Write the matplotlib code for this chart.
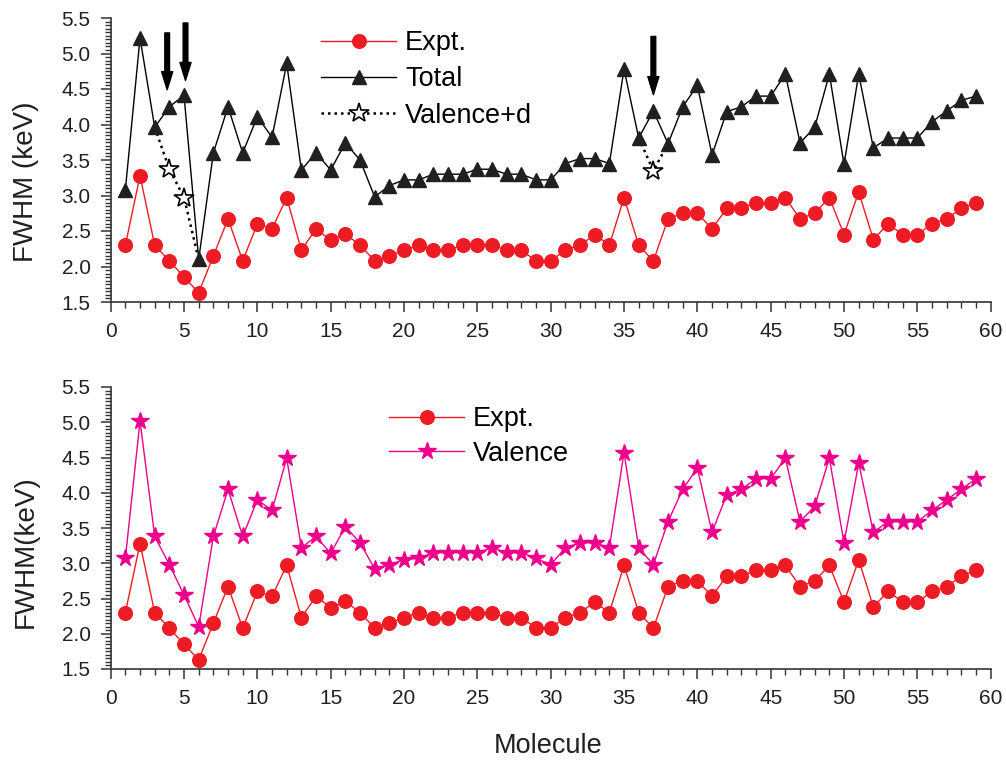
import matplotlib
matplotlib.use("Agg")
import matplotlib.pyplot as plt
import numpy as np
from matplotlib.ticker import MultipleLocator

plt.rcParams['font.family'] = ['Liberation Sans', 'DejaVu Sans']

# data
molecule = list(range(1, 60))
expt = [2.30, 3.28, 2.30, 2.08, 1.85, 1.63, 2.15, 2.67, 2.08, 2.60,
        2.53, 2.97, 2.23, 2.53, 2.37, 2.46, 2.30, 2.08, 2.15, 2.23,
        2.30, 2.23, 2.23, 2.30, 2.30, 2.30, 2.23, 2.23, 2.08, 2.08,
        2.23, 2.30, 2.45, 2.30, 2.97, 2.30, 2.08, 2.67, 2.75, 2.75,
        2.53, 2.82, 2.82, 2.90, 2.90, 2.97, 2.67, 2.75, 2.97, 2.45,
        3.05, 2.38, 2.60, 2.45, 2.45, 2.60, 2.67, 2.82, 2.90]
total = [3.08, 5.22, 3.96, 4.25, 4.41, 2.10, 3.60, 4.25, 3.60, 4.11,
         3.82, 4.86, 3.36, 3.60, 3.36, 3.74, 3.50, 2.98, 3.14, 3.22,
         3.22, 3.30, 3.30, 3.30, 3.37, 3.37, 3.30, 3.30, 3.22, 3.22,
         3.45, 3.52, 3.52, 3.45, 4.78, 3.81, 4.19, 3.73, 4.25, 4.55,
         3.57, 4.18, 4.25, 4.40, 4.40, 4.71, 3.74, 3.96, 4.71, 3.44,
         4.71, 3.67, 3.81, 3.81, 3.81, 4.04, 4.19, 4.34, 4.40]
valence_d = [3.08, 5.22, 3.96, 3.37, 2.97, 2.10, 3.60, 4.25, 3.60, 4.11,
             3.82, 4.86, 3.36, 3.60, 3.36, 3.74, 3.50, 2.98, 3.14, 3.22,
             3.22, 3.30, 3.30, 3.30, 3.37, 3.37, 3.30, 3.30, 3.22, 3.22,
             3.45, 3.52, 3.52, 3.45, 4.78, 3.81, 3.35, 3.73, 4.25, 4.55,
             3.57, 4.18, 4.25, 4.40, 4.40, 4.71, 3.74, 3.96, 4.71, 3.44,
             4.71, 3.67, 3.81, 3.81, 3.81, 4.04, 4.19, 4.34, 4.40]
valence = [3.07, 5.02, 3.38, 2.98, 2.55, 2.10, 3.38, 4.05, 3.38, 3.90,
           3.75, 4.49, 3.22, 3.38, 3.14, 3.52, 3.29, 2.92, 2.98, 3.05,
           3.07, 3.15, 3.15, 3.15, 3.15, 3.22, 3.15, 3.15, 3.07, 2.98,
           3.22, 3.29, 3.29, 3.22, 4.57, 3.22, 2.98, 3.59, 4.05, 4.35,
           3.44, 3.97, 4.05, 4.20, 4.20, 4.49, 3.59, 3.81, 4.49, 3.29,
           4.42, 3.44, 3.59, 3.59, 3.59, 3.75, 3.90, 4.05, 4.20]
# arrows: (x, y_start, y_tip)
arrows = [(3.85, 5.29, 4.49), (5.1, 5.43, 4.62), (37.0, 5.24, 4.42)]

RED = '#ED1C24'
MAG = '#EC008C'
AX = '#333333'
TXT = '#231F20'

# valence+d only shows where it leaves the total curve (elsewhere it sits under it)
vd = np.array(valence_d)
diff = ~np.isclose(vd, np.array(total))
show = diff | np.roll(diff, 1) | np.roll(diff, -1)
vd_line = np.where(show, vd, np.nan)
vd_marks = list(np.where(diff)[0])

W, H = 1006, 763
fig = plt.figure(figsize=(W / 100, H / 100), dpi=100)
ax1 = fig.add_axes([110.7 / W, 1 - 302 / H, 880 / W, 284 / H])
ax2 = fig.add_axes([110.7 / W, 1 - 669 / H, 880 / W, 282 / H])

for ax in (ax1, ax2):
    ax.set_xlim(0, 60)
    ax.set_ylim(1.5, 5.5)
    ax.spines['top'].set_visible(False)
    ax.spines['right'].set_visible(False)
    for s in ('left', 'bottom'):
        ax.spines[s].set_color(AX)
        ax.spines[s].set_linewidth(1.2)
    ax.xaxis.set_major_locator(MultipleLocator(5))
    ax.xaxis.set_minor_locator(MultipleLocator(1))
    ax.yaxis.set_major_locator(MultipleLocator(0.5))
    ax.yaxis.set_minor_locator(MultipleLocator(0.05))
    ax.yaxis.set_major_formatter(plt.FormatStrFormatter('%.1f'))
    ax.tick_params(which='major', direction='out', length=7.5, width=1.1,
                   color=AX, labelsize=15, labelcolor=TXT, pad=7)
    ax.tick_params(which='minor', direction='out', length=4, width=1, color=AX)
    ax.patch.set_visible(False)

# top panel
ax1.plot(molecule, vd_line, ls=(0, (1, 1.6)), lw=1.8, color='black',
         marker='*', ms=15, mfc='white', mec='black', mew=1.2,
         markevery=vd_marks, label='Valence+d', zorder=2)
ax1.plot(molecule, expt, '-', color=RED, lw=1, marker='o', ms=9.8,
         mfc=RED, mec=RED, label='Expt.', zorder=3)
ax1.plot(molecule, total, '-', color='black', lw=1, marker='^', ms=10.5,
         mfc=TXT, mec=TXT, label='Total', zorder=4)
for x, y0, y1 in arrows:
    ax1.annotate('', xy=(x, y1), xytext=(x, y0),
                 arrowprops=dict(facecolor='black', edgecolor='black',
                                 width=3.4, headwidth=8, headlength=13, shrink=0))
h, l = ax1.get_legend_handles_labels()
order = [1, 2, 0]
ax1.legend([h[i] for i in order], [l[i] for i in order],
           loc='upper left', bbox_to_anchor=(321 / W, 1 - 30 / H),
           bbox_transform=fig.transFigure, frameon=False, fontsize=19.5,
           handlelength=2.78, handletextpad=0.33, labelspacing=0.38,
           borderpad=0, borderaxespad=0)

# bottom panel
ax2.plot(molecule, expt, '-', color=RED, lw=1, marker='o', ms=9.8,
         mfc=RED, mec=RED, label='Expt.', zorder=3)
ax2.plot(molecule, valence, '-', color=MAG, lw=1, marker='*', ms=13,
         mfc=MAG, mec=MAG, label='Valence', zorder=2)
ax2.legend(loc='upper left', bbox_to_anchor=(389 / W, 1 - 406 / H),
           bbox_transform=fig.transFigure, frameon=False, fontsize=19.5,
           handlelength=2.78, handletextpad=0.33, labelspacing=0.32,
           borderpad=0, borderaxespad=0)

fig.text(26 / W, 1 - 182 / H, 'FWHM (keV)', rotation=90, ha='center',
         va='center', fontsize=20, color=TXT)
fig.text(26 / W, 1 - 552 / H, 'FWHM(keV)', rotation=90, ha='center',
         va='center', fontsize=20, color=TXT)
fig.text(548 / W, 1 - 746 / H, 'Molecule', ha='center', va='center',
         fontsize=19.5, color=TXT)

fig.savefig('out.png', dpi=100)
